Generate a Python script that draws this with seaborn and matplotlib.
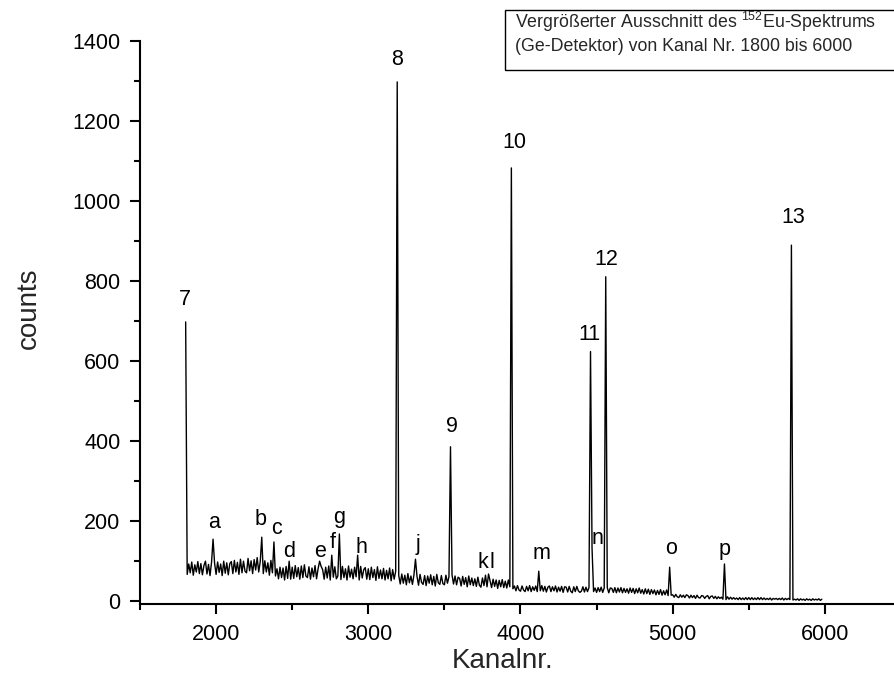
import numpy as np
import pandas as pd
import matplotlib
matplotlib.use("Agg")
import matplotlib.pyplot as plt
import seaborn as sns
from matplotlib.patches import Rectangle
from matplotlib.ticker import MultipleLocator

# ---------------- data ----------------
channel_start = 1800
channel_step = 10

# background counts, one value per 10 channels, rows of 100 channels
baseline = [
    95, 66, 92, 70, 97, 64, 90, 72, 98, 68,      # 1800
    93, 65, 88, 99, 67, 91, 63, 96, 70, 94,      # 1900
    66, 97, 71, 92, 63, 99, 69, 95, 65, 93,      # 2000
    98, 68, 101, 72, 96, 66, 104, 70, 99, 74,    # 2100
    70, 106, 75, 100, 68, 103, 77, 108, 72, 98,  # 2200
    92, 68, 100, 72, 95, 64, 101, 70, 90, 62,    # 2300
    80, 55, 84, 58, 82, 52, 86, 56, 79, 54,      # 2400
    84, 56, 88, 60, 83, 54, 87, 58, 90, 62,      # 2500
    58, 85, 54, 82, 60, 88, 55, 80, 58, 86,      # 2600
    78, 54, 84, 57, 87, 52, 81, 59, 85, 55,      # 2700
    62, 83, 53, 86, 58, 80, 52, 87, 59, 79,      # 2800
    55, 84, 60, 81, 52, 86, 57, 78, 83, 54,      # 2900
    80, 53, 84, 58, 78, 51, 85, 56, 77, 55,      # 3000
    81, 52, 76, 55, 82, 50, 78, 54, 74, 52,      # 3100
    63, 42, 67, 44, 64, 40, 68, 45, 62, 41,      # 3200
    65, 43, 61, 39, 66, 46, 41, 63, 38, 62,      # 3300
    44, 65, 40, 61, 37, 66, 45, 41, 63, 43,      # 3400
    40, 64, 44, 60, 38, 65, 42, 62, 40, 59,      # 3500
    56, 37, 61, 41, 58, 35, 62, 40, 57, 38,      # 3600
    55, 36, 59, 39, 34, 57, 38, 54, 35, 53,      # 3700
    50, 33, 54, 36, 52, 31, 51, 35, 53, 33,      # 3800
    49, 32, 52, 35, 50, 30, 37, 25, 38, 27,      # 3900
    24, 37, 27, 23, 36, 25, 38, 23, 35, 26,      # 4000
    37, 23, 35, 25, 38, 24, 36, 22, 34, 37,      # 4100
    23, 35, 25, 37, 22, 34, 24, 36, 21, 35,      # 4200
    34, 22, 36, 24, 20, 35, 23, 36, 25, 21,      # 4300
    24, 35, 22, 34, 23, 33, 21, 35, 23, 32,      # 4400
    21, 33, 23, 34, 21, 32, 22, 33, 20, 32,      # 4500
    31, 21, 33, 20, 32, 22, 33, 20, 31, 21,      # 4600
    30, 19, 32, 21, 31, 18, 30, 20, 32, 19,      # 4700
    28, 17, 30, 18, 29, 16, 28, 18, 27, 15,      # 4800
    26, 16, 28, 14, 25, 15, 27, 13, 24, 14,      # 4900
    15, 9, 16, 10, 8, 15, 9, 14, 8, 15,          # 5000
    13, 7, 14, 8, 13, 6, 14, 8, 7, 13,           # 5100
    12, 6, 11, 13, 5, 11, 12, 6, 11, 5,          # 5200
    10, 6, 9, 4, 9, 3, 10, 4, 9, 4,              # 5300
    8, 4, 7, 3, 8, 3, 7, 3, 8, 3,                # 5400
    8, 3, 8, 3, 7, 3, 8, 3, 8, 3,                # 5500
    7, 3, 6, 3, 7, 2, 6, 4, 6, 3,                # 5600
    6, 3, 7, 2, 6, 3, 6, 3, 6, 2,                # 5700
    4, 2, 5, 1, 5, 2, 4, 1, 5, 2,                # 5800
    4, 1, 5, 2, 4, 2, 5, 1, 4,                   # 5900
]

# peak maxima (channel, counts)
peak_channels = [1800, 3190, 3540, 3940, 4460, 4560, 5780,
                 1980, 2300, 2380, 2480, 2680, 2760, 2810, 2930,
                 3310, 3770, 3790, 4120, 4470, 4980, 5340]
peak_counts = [697, 1297, 385, 1082, 623, 810, 889,
               154, 159, 147, 99, 99, 114, 167, 114,
               104, 64, 67, 74, 132, 84, 92]

# peak labels
label_text = ["7", "8", "9", "10", "11", "12", "13",
              "a", "b", "c", "d", "e", "f", "g", "h",
              "j", "k", "l", "m", "n", "o", "p"]
label_x = [1796, 3190, 3550, 3957, 4450, 4562, 5790,
           1986, 2295, 2400, 2479, 2683, 2769, 2808, 2955,
           3327, 3753, 3813, 4136, 4508, 4988, 5343]
label_y = [739, 1339, 422, 1131, 651, 839, 944,
           182, 189, 167, 109, 109, 132, 194, 119,
           127, 82, 82, 104, 142, 117, 114]

x_ticks = [2000, 3000, 4000, 5000, 6000]
y_ticks = [0, 200, 400, 600, 800, 1000, 1200, 1400]

box_line1 = "Vergrößerter Ausschnitt des $^{\\mathrm{152}}$Eu-Spektrums"
box_line2 = "(Ge-Detektor) von Kanal Nr. 1800 bis 6000"

# ---------------- build table ----------------
channels = channel_start + channel_step * np.arange(len(baseline))
counts = np.array(baseline, dtype=float)
for pc, ph in zip(peak_channels, peak_counts):
    i = (pc - channel_start) // channel_step
    counts[i] = max(counts[i], ph)
df = pd.DataFrame({"Kanal": channels, "counts": counts})

# ---------------- style ----------------
sns.set_style("ticks")
plt.rcParams["font.family"] = ["Liberation Sans", "DejaVu Sans"]
plt.rcParams["mathtext.fontset"] = "custom"
plt.rcParams["mathtext.rm"] = "Liberation Sans"
plt.rcParams["mathtext.it"] = "Liberation Sans:italic"
plt.rcParams["mathtext.bf"] = "Liberation Sans:bold"

W, H = 894, 691
fig = plt.figure(figsize=(W / 100, H / 100), dpi=100)
fig.patch.set_facecolor("white")
ax = fig.add_axes([140 / W, 1 - 604 / H, 761 / W, (604 - 40.7) / H])
ax.set_facecolor("white")

sns.lineplot(data=df, x="Kanal", y="counts", ax=ax, color="black",
             linewidth=1.0, estimator=None, sort=True)

ax.set_xlim(1500, 6500)
ax.set_ylim(-8, 1400)
ax.set_xticks(x_ticks)
ax.set_yticks(y_ticks)
ax.xaxis.set_minor_locator(MultipleLocator(500))
ax.yaxis.set_minor_locator(MultipleLocator(100))
ax.set_xlabel("")
ax.set_ylabel("")

for s in ["top", "right"]:
    ax.spines[s].set_visible(False)
for s in ["left", "bottom"]:
    ax.spines[s].set_linewidth(1.5)
    ax.spines[s].set_color("black")

ax.tick_params(axis="both", which="major", direction="out", length=7.5,
               width=1.5, labelsize=15.5, colors="black")
ax.tick_params(axis="both", which="minor", direction="out", length=4.5,
               width=1.5, colors="black")
ax.tick_params(axis="y", which="major", pad=6.5)
ax.tick_params(axis="x", which="major", pad=7)

for t, lx, ly in zip(label_text, label_x, label_y):
    ax.text(lx, ly, t, ha="center", va="baseline", fontsize=15.5,
            color="black")

fig.text(29 / W, 1 - 308 / H, "counts", rotation=90, ha="center",
         va="center", fontsize=20)
fig.text(503 / W, 1 - 661 / H, "Kanalnr.", ha="center", va="center",
         fontsize=20)

box = Rectangle((505 / W, 1 - 70 / H), 420 / W, 60 / H,
                transform=fig.transFigure, fill=False, edgecolor="black",
                linewidth=1.0, clip_on=False)
fig.add_artist(box)
fig.text(515 / W, 1 - 28 / H, box_line1, ha="left", va="baseline",
         fontsize=12.8)
fig.text(515 / W, 1 - 51 / H, box_line2, ha="left", va="baseline",
         fontsize=12.8)

fig.savefig("out.png", dpi=100, facecolor="white")
